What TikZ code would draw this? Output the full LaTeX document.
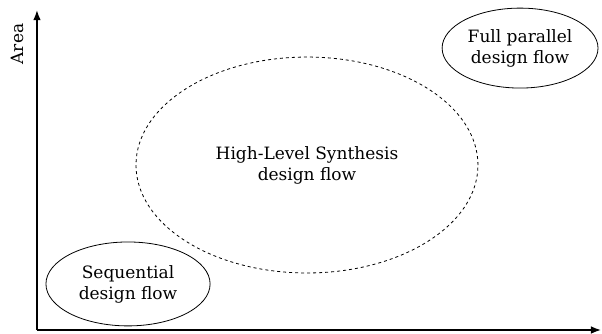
\documentclass[tikz,border=0pt]{standalone}
\usepackage{fontspec}
\setmainfont{DejaVu Serif}
\usetikzlibrary{arrows.meta,positioning,shapes.geometric}

\begin{document}
\begin{tikzpicture}[>=Latex, every node/.style={font=\fontsize{17}{21}\selectfont, align=center},
  flow/.style={ellipse, draw, line width=0.8pt, inner sep=0pt},
  axis/.style={->, line width=1.6pt}]
 \useasboundingbox (-1.30,-0.105) rectangle (19.86,11.60);
 \coordinate (origin) at (0,0);
 \coordinate (ytip) at (0,11.25);
 \coordinate (xtip) at (19.83,0);
 \draw[axis] (origin) -- (ytip);
 \draw[axis] (origin) -- (xtip);
 \node[rotate=90] (area) at (-0.70,10.05) {Area};
 \node[flow, minimum width=5.77cm, minimum height=2.95cm] (seq) at (3.20,1.62) {Sequential\\design flow};
 \node[flow, dashed, minimum width=12.02cm, minimum height=7.59cm] (hls) at (9.49,5.80) {High-Level Synthesis\\design flow};
 \node[flow, minimum width=5.48cm, minimum height=2.81cm] (full) at (16.98,9.91) {Full parallel\\design flow};
\end{tikzpicture}
\end{document}
